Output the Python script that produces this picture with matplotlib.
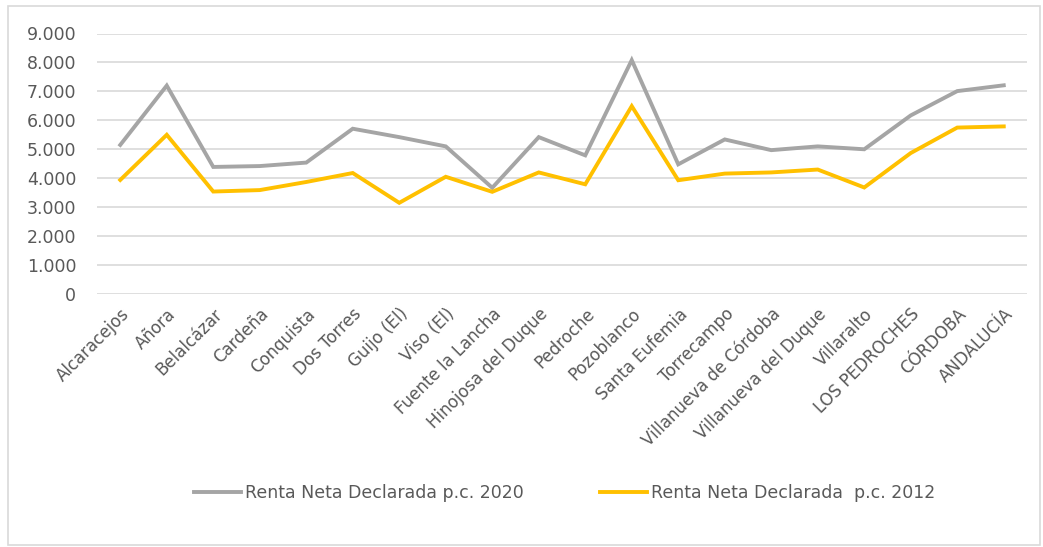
import matplotlib
matplotlib.use('Agg')
import matplotlib.pyplot as plt
from matplotlib.patches import Rectangle
from matplotlib.ticker import FuncFormatter

municipios = ['Alcaracejos', 'Añora', 'Belalcázar', 'Cardeña', 'Conquista',
              'Dos Torres', 'Guijo (El)', 'Viso (El)', 'Fuente la Lancha',
              'Hinojosa del Duque', 'Pedroche', 'Pozoblanco', 'Santa Eufemia',
              'Torrecampo', 'Villanueva de Córdoba', 'Villanueva del Duque',
              'Villaralto', 'LOS PEDROCHES', 'CÓRDOBA', 'ANDALUCÍA']

renta_2020 = [5150, 7200, 4390, 4420, 4540, 5710, 5420, 5100, 3670, 5420,
              4790, 8080, 4480, 5340, 4970, 5100, 5000, 6170, 7010, 7210]
renta_2012 = [3940, 5500, 3540, 3590, 3870, 4180, 3150, 4050, 3530, 4200,
              3790, 6490, 3930, 4160, 4200, 4300, 3680, 4870, 5750, 5790]

etiquetas = ['Renta Neta Declarada p.c. 2020', 'Renta Neta Declarada  p.c. 2012']

W, H = 1043, 547
fig = plt.figure(figsize=(W / 100, H / 100), dpi=100)
plt.rcParams['font.family'] = ['DejaVu Sans']
texto = '#595959'

# marco del grafico
fig.patches.append(Rectangle((8 / W, 2 / H), 1032 / W, 539 / H, transform=fig.transFigure,
                             fill=False, edgecolor='#d9d9d9', linewidth=1.2))

ax = fig.add_axes([97 / W, (H - 294) / H, 930 / W, 260.5 / H])

x = list(range(len(municipios)))
ax.plot(x, renta_2020, color='#a5a5a5', linewidth=2.8, label=etiquetas[0], solid_joinstyle='miter')
ax.plot(x, renta_2012, color='#ffc000', linewidth=2.8, label=etiquetas[1], solid_joinstyle='miter')

ax.set_xlim(-0.5, len(municipios) - 0.5)
ax.set_ylim(0, 9000)
ax.set_yticks(range(0, 9001, 1000))
ax.yaxis.set_major_formatter(FuncFormatter(lambda v, p: f'{int(v):,}'.replace(',', '.')))
ax.grid(axis='y', color='#d9d9d9', linewidth=1.2)
ax.set_axisbelow(True)
for s in ax.spines.values():
    s.set_visible(False)

ax.tick_params(axis='y', length=0, pad=15, labelsize=12.5, labelcolor=texto)
ax.tick_params(axis='x', length=0, pad=8, labelsize=12, labelcolor=texto)
ax.set_xticks(x)
ax.set_xticklabels(municipios, rotation=45, ha='right', va='top', rotation_mode='anchor')

fig.legend(loc='center', bbox_to_anchor=(0.541, (H - 493) / H), ncol=2, frameon=False,
           fontsize=12.5, labelcolor=texto, handlelength=2.7, handletextpad=0.23,
           columnspacing=4.4)

fig.savefig('out.png', dpi=100)
